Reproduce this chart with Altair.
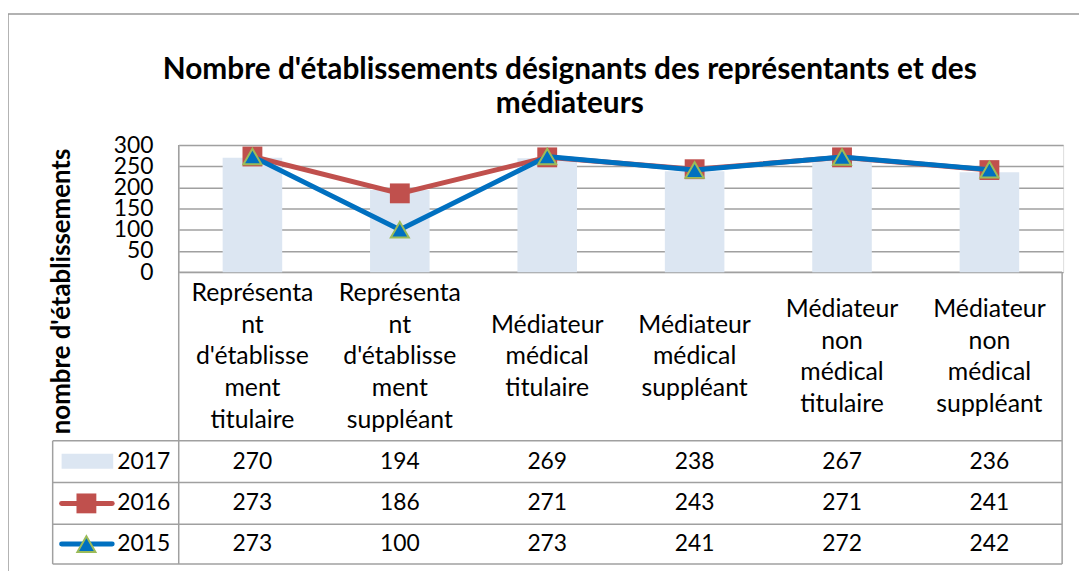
import altair as alt
import pandas as pd

categories = [
    "Représentant d'établissement titulaire",
    "Représentant d'établissement suppléant",
    "Médiateur médical titulaire",
    "Médiateur médical suppléant",
    "Médiateur non médical titulaire",
    "Médiateur non médical suppléant",
]
cat_labels = [
    "Représenta\nnt\nd'établisse\nment\ntitulaire",
    "Représenta\nnt\nd'établisse\nment\nsuppléant",
    "Médiateur\nmédical\ntitulaire",
    "Médiateur\nmédical\nsuppléant",
    "Médiateur\nnon\nmédical\ntitulaire",
    "Médiateur\nnon\nmédical\nsuppléant",
]
years = ["2017", "2016", "2015"]
v2017 = [270, 194, 269, 238, 267, 236]
v2016 = [273, 186, 271, 243, 271, 241]
v2015 = [273, 100, 273, 241, 272, 242]
y_ticks = [0, 50, 100, 150, 200, 250, 300]
title_text = "Nombre d'établissements désignants des représentants et des\nmédiateurs"
y_title = "nombre d'établissements"

series = {"2017": v2017, "2016": v2016, "2015": v2015}
rows = []
for yr in years:
    for c, v in zip(categories, series[yr]):
        rows.append({"cat": c, "year": yr, "value": v})
df = pd.DataFrame(rows)
cat_df = pd.DataFrame({"cat": categories, "label": cat_labels,
                       "nlines": [lab.count("\n") + 1 for lab in cat_labels]})

FONT = "Lato"
GRID = "#a0a0a0"
BLUE_BAR = "#dce6f2"
RED = "#c0504d"
BLUE = "#0070c0"
GREEN = "#9bbb59"

W, H = 891, 128
LABEL_CENTER = 213
LINE_H = 32

x_enc = alt.X("cat:N", sort=categories, scale=alt.Scale(paddingInner=0, paddingOuter=0),
              axis=None)
y_enc = alt.Y("value:Q", scale=alt.Scale(domain=[0, 300], nice=False),
              axis=alt.Axis(values=y_ticks, tickCount=7, grid=True, gridColor=GRID,
                            gridWidth=1.5, ticks=False, domain=False, labelFontSize=23,
                            labelFont=FONT, labelColor="#000", labelPadding=26,
                            labelOverlap=False, labelFlush=False,
                            title=y_title, titleFont=FONT, titleFontSize=26,
                            titleFontWeight="bold", titleColor="#000",
                            titleX=-118, titleY=147, titleAngle=270,
                            titleAlign="center", titleBaseline="middle"))

base = alt.Chart(df).encode(x=x_enc, y=y_enc)

bars = base.transform_filter("datum.year == '2017'").mark_bar(size=60, color=BLUE_BAR)
red_line = base.transform_filter("datum.year == '2016'").mark_line(color=RED, strokeWidth=5)
red_pts = base.transform_filter("datum.year == '2016'").mark_point(
    shape="square", size=400, filled=True, color=RED, opacity=1)
blue_line = base.transform_filter("datum.year == '2015'").mark_line(color=BLUE, strokeWidth=5)
blue_pts = base.transform_filter("datum.year == '2015'").mark_point(
    shape="triangle-up", size=330, filled=True, fill=BLUE, stroke=GREEN, strokeWidth=2,
    opacity=1)

# data table
row_center = {"2017": 319, "2016": 361, "2015": 402}
table_text = []
for yr in years:
    table_text.append(
        alt.Chart(df).transform_filter(f"datum.year == '{yr}'").mark_text(
            font=FONT, fontSize=23, color="#000", baseline="middle", align="center"
        ).encode(x=x_enc, y=alt.value(row_center[yr]), text="value:Q")
    )
cat_text = []
for n in sorted(set(cat_df["nlines"])):
    cat_text.append(alt.Chart(cat_df).transform_filter(f"datum.nlines == {n}").mark_text(
        font=FONT, fontSize=25, color="#000", baseline="middle", align="center",
        lineBreak="\n", lineHeight=LINE_H
    ).encode(x=x_enc, y=alt.value(LABEL_CENTER - (n - 1) * LINE_H / 2), text="label:N"))

one = pd.DataFrame({"k": [0]})


def rule(x1, x2, y1, y2, color=GRID, w=1.5, cap="butt"):
    return alt.Chart(one).mark_rule(color=color, strokeWidth=w, strokeCap=cap).encode(
        x=alt.value(x1), x2=alt.value(x2), y=alt.value(y1), y2=alt.value(y2))


lines = [
    rule(0, 890, 128, 128),
    rule(-127, 890, 298, 298),
    rule(-127, 890, 340, 340),
    rule(-127, 890, 382, 382),
    rule(-127, 890, 422, 422),
    rule(0, 0, 0, 422),
    rule(-127, -127, 298, 422),
    rule(890, 890, 128, 422),
    # outer chart frame
    rule(-172, -172, -132, 440, color="#999999", w=1.5),
    rule(-172, 910, -132, -132, color="#999999", w=1.5),
]

# legend keys inside the data table
key_2017 = alt.Chart(one).mark_rect(color=BLUE_BAR).encode(
    x=alt.value(-118), x2=alt.value(-66), y=alt.value(311), y2=alt.value(326))
key_2016_line = rule(-118, -67, 361, 361, color=RED, w=5, cap="round")
key_2016_pt = alt.Chart(one).mark_point(shape="square", size=400, filled=True, color=RED,
                                        opacity=1).encode(x=alt.value(-93), y=alt.value(361))
key_2015_line = rule(-118, -67, 402, 402, color=BLUE, w=5, cap="round")
key_2015_pt = alt.Chart(one).mark_point(shape="triangle-up", size=330, filled=True, fill=BLUE,
                                        stroke=GREEN, strokeWidth=2, opacity=1).encode(
    x=alt.value(-93), y=alt.value(402))
key_text = []
for yr in years:
    key_text.append(alt.Chart(one).mark_text(
        font=FONT, fontSize=23, color="#000", align="left", baseline="middle", text=yr
    ).encode(x=alt.value(-62), y=alt.value(row_center[yr])))

title = alt.Chart(one).mark_text(
    font=FONT, fontSize=30, fontWeight="bold", color="#000", align="center",
    baseline="middle", lineBreak="\n", lineHeight=35, text=title_text
).encode(x=alt.value(394), y=alt.value(-76))

chart = alt.layer(
    *lines, bars, red_line, red_pts, blue_line, blue_pts, *table_text, *cat_text,
    key_2017, key_2016_line, key_2016_pt, key_2015_line, key_2015_pt, *key_text, title
).properties(
    width=W, height=H,
    autosize=alt.AutoSizeParams(type="none"),
    padding={"left": 172, "top": 136, "right": 16, "bottom": 299},
).configure_view(stroke=None).configure(background="white")

chart.save("out.html", embed_options={"renderer": "svg", "actions": False})
